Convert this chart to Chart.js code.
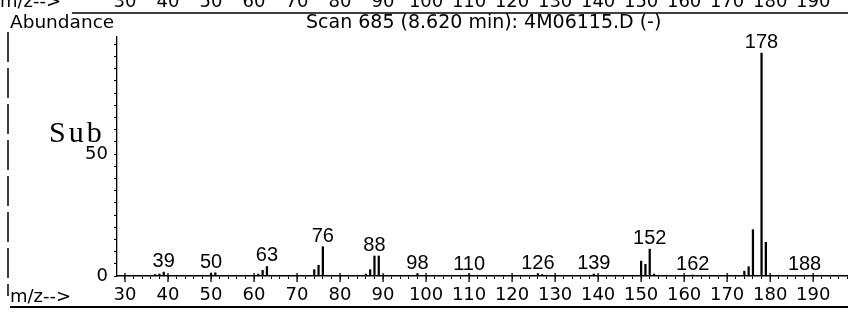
<!DOCTYPE html>
<html><head><meta charset="utf-8">
<script src="https://cdn.jsdelivr.net/npm/chart.js@4.4.0/dist/chart.umd.min.js"></script>
<style>html,body{margin:0;padding:0;background:#fff;overflow:hidden}#wrap{width:848px;height:314px;position:relative}</style>
</head><body><div id="wrap"><canvas id="c" width="848" height="314"></canvas></div>
<script>
// m/z values and relative abundances
const massValues = [37, 38, 39, 50, 51, 61, 62, 63, 74, 75, 76, 86, 87, 88, 89, 98, 110, 126, 127, 139, 150, 151, 152, 153, 162, 174, 175, 176, 178, 179, 188];
const abundanceValues = [0.6, 0.8, 1.6, 1.2, 1.3, 0.8, 2.3, 3.9, 2.6, 4.4, 12.0, 0.8, 2.6, 8.2, 8.2, 1.0, 0.6, 1.0, 0.6, 0.8, 6.1, 4.8, 11.0, 0.8, 0.4, 2.0, 3.8, 19.0, 91.4, 13.8, 0.3];
const peakLabels = [39, 50, 63, 76, 88, 98, 110, 126, 139, 152, 162, 178, 188];
const xTickLabels = [30, 40, 50, 60, 70, 80, 90, 100, 110, 120, 130, 140, 150, 160, 170, 180, 190];
const yTickLabels = [0, 50];
const titleLeft = 'Abundance';
const titleScan = 'Scan 685 (8.620 min): 4M06115.D (-)';
const xAxisName = 'm/z-->';
const subText = 'Sub';

const decor = {
  id: 'decor',
  afterDraw(chart) {
    const c = chart.ctx, xs = chart.scales.x, ys = chart.scales.y;
    c.save();
    c.fillStyle = '#000'; c.strokeStyle = '#000';
    // top cut-off strip from previous panel
    c.font = '18px "DejaVu Sans"';
    c.textBaseline = 'alphabetic';
    c.textAlign = 'left';
    c.fillText(xAxisName, 0, 7);
    c.textAlign = 'center';
    xTickLabels.forEach(v => c.fillText(String(v), xs.getPixelForValue(v), 7));
    c.lineWidth = 1.5;
    c.beginPath(); c.moveTo(72, 13); c.lineTo(848, 13); c.stroke();
    // titles
    c.textAlign = 'left';
    c.font = '18.5px "DejaVu Sans"';
    c.fillText(titleLeft, 10, 28);
    c.font = '19px "DejaVu Sans"';
    c.fillText(titleScan, 306, 28);
    // Sub (typewriter-style serif)
    c.font = '30px "Liberation Serif"';
    if ('letterSpacing' in c) c.letterSpacing = '3px';
    c.fillText(subText, 49, 142);
    if ('letterSpacing' in c) c.letterSpacing = '0px';
    // bottom axis name and underline
    c.font = '18px "DejaVu Sans"';
    c.fillText(xAxisName, 10, 302);
    c.lineWidth = 2;
    c.beginPath(); c.moveTo(10, 307); c.lineTo(848, 307); c.stroke();
    // left dashed frame line
    c.lineWidth = 1.5;
    c.setLineDash([30, 6]);
    c.beginPath(); c.moveTo(8, 32); c.lineTo(8, 296); c.stroke();
    c.setLineDash([]);
    // major x ticks crossing the axis
    const yb = chart.chartArea.bottom;
    c.lineWidth = 1.3;
    xTickLabels.forEach(v => {
      const px = xs.getPixelForValue(v);
      c.beginPath(); c.moveTo(px, yb - 3); c.lineTo(px, yb + 6); c.stroke();
    });
    // peak labels
    c.font = '20px "Liberation Sans"';
    c.textAlign = 'center';
    peakLabels.forEach(m => {
      const i = massValues.indexOf(m);
      const px = xs.getPixelForValue(m);
      const py = ys.getPixelForValue(abundanceValues[i]);
      c.fillText(String(m), px, py - 5);
    });
    c.restore();
  }
};

new Chart(document.getElementById('c'), {
  type: 'bar',
  data: {
    datasets: [{
      data: massValues.map((m, i) => ({x: m, y: abundanceValues[i]})),
      backgroundColor: '#000',
      borderWidth: 0,
      barThickness: 1.6
    }]
  },
  options: {
    animation: false,
    responsive: false,
    layout: {padding: {top: 37, left: 0, right: 0, bottom: 0}},
    plugins: {legend: {display: false}, tooltip: {enabled: false}},
    scales: {
      x: {
        type: 'linear', min: 28.14, max: 198.1, offset: false,
        ticks: {
          stepSize: 2, includeBounds: false, autoSkip: false, maxRotation: 0,
          callback: v => xTickLabels.includes(v) ? String(v) : '',
          font: {family: 'DejaVu Sans', size: 18}, color: '#000', padding: 6
        },
        grid: {drawOnChartArea: false, offset: false, drawTicks: true, tickLength: 3, tickColor: '#000', tickWidth: 1},
        border: {color: '#000', width: 1.5},
        afterFit: s => { s.height = 38; s.paddingLeft = 0; s.paddingRight = 0; }
      },
      y: {
        min: 0, max: 98,
        ticks: {
          stepSize: 5, includeBounds: false, autoSkip: false,
          callback: v => yTickLabels.includes(v) ? String(v) : '',
          font: {family: 'DejaVu Sans', size: 18}, color: '#000', padding: 6
        },
        grid: {drawOnChartArea: false, drawTicks: true, tickLength: 3, tickColor: '#000', tickWidth: 1},
        border: {color: '#000', width: 1.3},
        afterFit: s => { s.width = 117; s.paddingTop = 0; s.paddingBottom = 0; }
      }
    }
  },
  plugins: [decor]
});
</script></body></html>
